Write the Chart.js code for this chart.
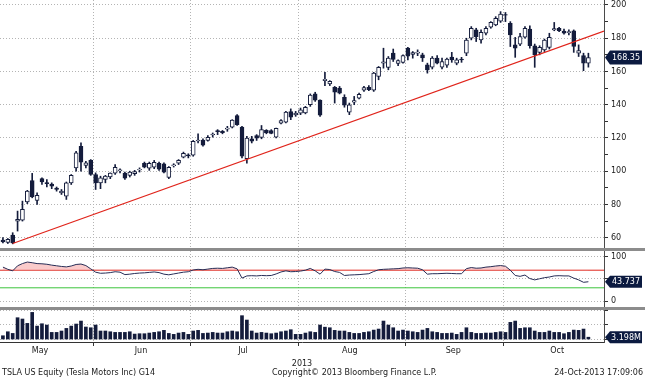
<!DOCTYPE html>
<html>
<head>
<meta charset="utf-8">
<title>TSLA US Equity</title>
<script src="https://cdn.jsdelivr.net/npm/chart.js@4.4.0/dist/chart.umd.min.js"></script>
<style>
  html, body { margin: 0; padding: 0; background: #fff; }
  #page { position: relative; width: 645px; height: 380px; overflow: hidden;
          font-family: "DejaVu Sans", sans-serif; font-size: 8px; color: #1a1a1a; }
  .panel { position: absolute; left: 0; width: 645px; }
  .sep { position: absolute; left: 0; width: 645px; height: 3px; background: #8c8c8c; }
  .foot { position: absolute; top: 368px; line-height: 10px; white-space: nowrap; }
</style>
</head>
<body>
<div id="page">
  <div class="panel" style="top:0;height:248px"><canvas id="priceChart"></canvas></div>
  <div class="sep" style="top:248px"></div>
  <div class="panel" style="top:251px;height:56px"><canvas id="rsiChart"></canvas></div>
  <div class="sep" style="top:307px"></div>
  <div class="panel" style="top:310px;height:70px"><canvas id="volChart"></canvas></div>
  <div class="foot" style="left:2px">TSLA US Equity (Tesla Motors Inc) G14</div>
  <div class="foot" style="left:272px">Copyright© 2013 Bloomberg Finance L.P.</div>
  <div class="foot" style="right:2px">24-Oct-2013 17:09:06</div>
</div>
<script>
// months on the time axis (positions are trading-day numbers)
const monthLabels = ['May', 'Jun', 'Jul', 'Aug', 'Sep', 'Oct'];
const monthMid = [7.6, 28.3, 49.2, 71.1, 92.3, 113.6];
const monthStart = [18.5, 38.5, 60.5, 82.5, 102.5];

// daily candles, 6-May-2013 .. 24-Oct-2013
const opens = [
  58.5, 57.2, 61.5, 70, 70.5, 81.5, 94.4, 82.4, 95.5, 93.2,
  92.3, 89.8, 87, 85, 93, 102, 115, 103.5, 106.5, 98,
  93, 95, 96.5, 98.8, 100.2, 98.8, 97.5, 98.5, 100.7, 104.8,
  101.8, 102.4, 104.8, 104.5, 96.3, 103.3, 104.8, 108.4, 109.8, 109.6,
  118.2, 118.8, 118.5, 121.8, 124.5, 124, 125.3, 126.5, 133.5, 126.5,
  107.5, 119.5, 121.5, 120.4, 124.6, 124.4, 120.5, 128.9, 129.5, 135.8,
  133.8, 134.9, 135, 140, 146.5, 142.8, 154.5, 152.5, 150.5, 150,
  144.5, 135.5, 141.5, 144, 148.7, 150.5, 148.7, 157, 165, 162.5,
  171, 164.8, 165.5, 174, 170.2, 171, 170, 164, 162.6, 168,
  162.6, 163.8, 168.6, 165, 167.5, 171, 180, 185, 179, 183,
  186.7, 188, 190.3, 194.3, 189, 176, 176.5, 180.7, 185.5, 175.5,
  171.5, 173, 174.5, 185, 186, 184.3, 183.4, 184.5, 171, 169.5,
  165
];
const highs = [
  60, 59.5, 63, 76, 82, 88.5, 98.7, 87, 96, 95,
  93, 90.5, 89, 93.5, 98, 112, 117, 106, 107, 99,
  97, 97.5, 99, 104, 101.5, 99.5, 100, 100.5, 102, 105.5,
  105.5, 106.5, 105.5, 105, 102.8, 104.5, 107, 111.5, 110.5, 118.5,
  122.5, 119.5, 121.5, 123, 125, 124.5, 127, 131, 134, 127,
  121, 121, 122, 127.5, 125, 125, 126, 131, 136, 137.5,
  136, 138, 139, 146.5, 147.5, 143, 159.5, 154.5, 151, 151,
  146, 141, 145, 147, 151, 151.5, 159.5, 163, 174, 169,
  173.5, 167, 170, 174.5, 172, 173, 171, 165, 169, 169.5,
  168, 168, 171.5, 168, 168.5, 180, 187, 186, 185, 187,
  190, 193, 196, 195.5, 190, 180.5, 183, 187, 187.5, 176.5,
  175.5, 179.5, 183, 189.5, 186.5, 185.5, 185, 185, 176, 171,
  171
];
const lows = [
  56.8, 56.5, 56.3, 64, 70, 80.5, 84, 80, 92, 90.5,
  89.5, 88, 86, 83, 92, 100, 100, 102, 97.5, 89,
  89.5, 93, 95.5, 98, 99, 95, 96.5, 97.5, 99.5, 102,
  100.5, 101.5, 100.5, 99, 95.5, 102.5, 104, 108, 108, 109,
  117, 115, 118, 120.5, 122, 122.5, 124, 126, 127.5, 108,
  104.8, 117, 118.5, 119.5, 122.5, 122.5, 120, 128.5, 129, 131,
  133, 134, 134.5, 139, 142, 133, 151.5, 151.5, 141, 146.5,
  138.5, 134, 140, 143.5, 148, 148.5, 148, 155, 162, 161,
  166, 163.5, 165, 167, 168, 169.5, 166, 159, 161.5, 164.5,
  161.5, 162.5, 165.5, 164, 165.5, 169.5, 179, 178, 177, 182,
  186, 187.5, 189.5, 190, 175, 168.5, 175.5, 180, 174, 162.5,
  170, 172, 173.5, 184.5, 184, 182.5, 182, 171.5, 169, 160.5,
  162.6
];
const closes = [
  57.5, 59, 56.8, 71, 77, 88, 84.5, 85.5, 93.5, 92.5,
  91, 89, 88, 93, 97.5, 111, 105.5, 105, 98, 93,
  96, 97, 98.8, 102.3, 100.8, 95.8, 99.4, 99.8, 101.2, 102.4,
  104.8, 105.4, 101.2, 99.4, 102.4, 103.8, 106.6, 110.8, 109.2, 118,
  118.8, 115.6, 120.4, 122.4, 123.8, 123.2, 126, 130.7, 128, 109,
  120, 118, 119.8, 125, 123, 122.8, 125.8, 130.5, 135.5, 132.5,
  135, 137, 138.5, 145.8, 142.7, 133.7, 155.3, 154, 147.5, 147,
  139.7, 140, 142.5, 146.3, 150.3, 149, 159, 162.5, 165.8, 168,
  167.3, 166.5, 169.5, 169.2, 171.4, 171.6, 168.2, 161, 168, 165,
  166, 167.4, 167, 167, 166.9, 178.9, 186, 181, 183.5, 186,
  189.5, 192, 194.5, 193.8, 182, 174, 181, 186, 175.5, 170,
  174.5, 178.9, 180.5, 185.8, 184.5, 183.1, 184, 175, 172.5, 165,
  168.35
];
// volume, millions of shares
const volumes = [
  5.2, 10.7, 8.4, 30, 28.2, 22.2, 37.3, 18.5, 21.7, 19.9,
  9.8, 9.8, 11.7, 15.3, 18.5, 21.3, 25.4, 17.2, 16.2, 19.9,
  11.7, 11.7, 10.7, 9.8, 9.8, 9.8, 10.7, 7.5, 8, 8,
  8.9, 9.8, 10.7, 12.6, 8.4, 7.1, 8.9, 9.8, 7.1, 11.7,
  12.6, 8.4, 8.9, 9.8, 8.9, 8.9, 10.7, 11.7, 10.7, 32.8,
  26.8, 11.7, 8.9, 9.8, 8.9, 8, 8.9, 10.7, 11.7, 13.5,
  7.1, 7.1, 8.9, 10.7, 9.8, 19.9, 17, 16.2, 12.6, 11.7,
  11.7, 9.8, 8.4, 8.4, 9.8, 10.7, 13, 14.4, 25.4, 19.9,
  16.2, 11.7, 13, 11.7, 10.7, 9.8, 13, 15.3, 10.7, 9.8,
  8.4, 8.4, 8.9, 7.1, 9.8, 16.2, 9.8, 8.4, 8.4, 8.9,
  8.9, 9.8, 10.7, 9.8, 23.6, 25.4, 15.3, 16.2, 16.2, 11.7,
  9.8, 9.8, 11.7, 9.8, 9.8, 8, 9.8, 13, 12.6, 14.4,
  3.198
];
// RSI (14)
const rsi = [
  77, 72, 68.5, 80, 85, 88.5, 87, 85, 84.5, 83.5,
  81.5, 80, 78.5, 77.5, 79.5, 83, 84, 80.5, 73, 65.5,
  63, 63.5, 64.5, 66.5, 65.5, 60, 61, 62.5, 63.5, 64,
  65, 66, 64.5, 61, 59.5, 61.5, 63.5, 65.5, 66.5, 70.5,
  72, 71, 72.5, 74, 74.5, 74, 75.5, 77, 73, 52,
  57, 57.5, 57, 58, 57.5, 58, 61.5, 66, 68.5, 66.5,
  67, 68, 70, 74, 68.5, 61, 72.5, 71.5, 67, 65,
  58, 59, 59.5, 60, 61, 62, 67, 71, 72, 72.5,
  73, 73.5, 75, 75.5, 75, 74.5, 71, 61, 62, 62,
  62.5, 63, 62.5, 62, 62, 73.5, 76, 74.5, 75, 77,
  78, 79.5, 80.5, 79, 70, 58, 56, 59, 51, 48,
  50.5, 53, 54.5, 57, 57.5, 57, 57, 52, 48, 42.5,
  43.737
];
// trend line drawn on the price panel
const trendX = [2, 123.2];
const trendY = [56.5, 184.3];
const rsiLevels = [70, 30];
const rsiLevelColors = ['#e0241b', '#3cc43c'];

const xMin = -0.6, xMax = 123.2;
const navy = '#141c3c';
const dotted = '#b4b4b4';
const days = closes.map((c, i) => i);

Chart.defaults.font.family = '"DejaVu Sans", sans-serif';
Chart.defaults.font.size = 8;
Chart.defaults.color = '#1a1a1a';

// value box on the right axis
const lastBox = {
  id: 'lastBox',
  afterDraw(chart, args, opts) {
    if (!opts.text) return;
    const ctx = chart.ctx;
    const y = chart.scales.y.getPixelForValue(opts.value);
    const x0 = chart.chartArea.right + 1, x1 = x0 + 5, x2 = 642, h = opts.h || 13;
    ctx.save();
    ctx.fillStyle = '#0b1a40';
    ctx.beginPath();
    ctx.moveTo(x0, y);
    ctx.lineTo(x1, y - h / 2);
    ctx.lineTo(x2, y - h / 2);
    ctx.lineTo(x2, y + h / 2);
    ctx.lineTo(x1, y + h / 2);
    ctx.closePath();
    ctx.fill();
    ctx.fillStyle = '#fff';
    ctx.font = '8px "DejaVu Sans"';
    ctx.textAlign = 'center';
    ctx.textBaseline = 'middle';
    ctx.fillText(opts.text, (x1 + x2) / 2, y + 0.5);
    ctx.restore();
  }
};

function monthAxis(height, withTicks) {
  return {
    type: 'linear', min: xMin, max: xMax, weight: 0, offset: false,
    afterBuildTicks: s => { s.ticks = monthStart.map(v => ({ value: v })); },
    ticks: { display: false },
    grid: { offset: false, color: dotted, drawTicks: withTicks, tickLength: 4, tickColor: '#333' },
    border: { display: withTicks, color: '#333', dash: [1, 2] },
    afterFit: s => { s.height = height; s.paddingLeft = 0; s.paddingRight = 0; }
  };
}

function rightAxis(min, max, step, label, gridColor) {
  return {
    position: 'right', min: min, max: max,
    ticks: { stepSize: step, includeBounds: false, autoSkip: false, padding: 3, callback: label },
    grid: { color: gridColor, tickColor: '#333', tickLength: 4 },
    border: { display: true, color: '#4a4a4a', dash: [1, 2] },
    afterFit: s => { s.width = 41; s.paddingTop = 0; s.paddingBottom = 0; }
  };
}

const baseOptions = {
  responsive: true,
  maintainAspectRatio: false,
  animation: false,
  events: [],
  layout: { padding: 0 }
};

new Chart(document.getElementById('priceChart'), {
  type: 'bar',
  data: {
    datasets: [
      {
        label: 'range',
        data: days.map(i => ({ x: i, y: [lows[i], highs[i]] })),
        backgroundColor: navy, barThickness: 1, grouped: false, order: 3
      },
      {
        label: 'body',
        data: days.map(i => ({ x: i, y: [opens[i], closes[i]] })),
        backgroundColor: days.map(i => closes[i] >= opens[i] ? '#ffffff' : navy),
        borderColor: navy, borderWidth: 1, borderSkipped: false,
        barThickness: 4, grouped: false, order: 2
      },
      {
        type: 'line', label: 'trend',
        data: trendX.map((x, k) => ({ x: x, y: trendY[k] })),
        borderColor: '#e0241b', borderWidth: 1.2, pointRadius: 0, order: 1
      }
    ]
  },
  options: Object.assign({}, baseOptions, {
    plugins: {
      legend: { display: false }, tooltip: { enabled: false },
      lastBox: { value: closes[closes.length - 1], text: closes[closes.length - 1].toFixed(2), h: 14 }
    },
    scales: {
      x: monthAxis(0, false),
      y: rightAxis(53.8, 203, 10,
        v => Math.round(v) % 20 === 0 ? Math.round(v) : '',
        c => c.tick && Math.round(c.tick.value) % 20 === 0 ? dotted : 'rgba(0,0,0,0)')
    }
  }),
  plugins: [lastBox]
});

new Chart(document.getElementById('rsiChart'), {
  type: 'line',
  data: {
    datasets: [
      {
        label: 'RSI',
        data: days.map(i => ({ x: i, y: rsi[i] })),
        borderColor: '#262c55', borderWidth: 1, pointRadius: 0, tension: 0,
        fill: { target: { value: rsiLevels[0] }, above: 'rgba(246,168,168,0.6)', below: 'rgba(0,0,0,0)' },
        order: 1
      }
    ].concat(rsiLevels.map((lv, k) => ({
      label: 'level ' + lv,
      data: [{ x: xMin, y: lv }, { x: xMax, y: lv }],
      borderColor: rsiLevelColors[k], borderWidth: 1, pointRadius: 0, order: 2
    })))
  },
  options: Object.assign({}, baseOptions, {
    plugins: {
      legend: { display: false }, tooltip: { enabled: false },
      lastBox: { value: rsi[rsi.length - 1], text: rsi[rsi.length - 1].toFixed(3), h: 12 }
    },
    scales: {
      x: monthAxis(0, false),
      y: rightAxis(-13.6, 113.6, 50, v => (v === 0 || v === 100) ? v : '', dotted)
    }
  }),
  plugins: [lastBox]
});

const volX = monthAxis(4, true);
new Chart(document.getElementById('volChart'), {
  type: 'bar',
  data: {
    datasets: [{
      label: 'Volume',
      data: days.map(i => ({ x: i, y: volumes[i] })),
      backgroundColor: navy, barThickness: 3
    }]
  },
  options: Object.assign({}, baseOptions, {
    plugins: {
      legend: { display: false }, tooltip: { enabled: false },
      lastBox: { value: volumes[volumes.length - 1], text: volumes[volumes.length - 1].toFixed(3) + 'M', h: 12 }
    },
    scales: {
      x: volX,
      x2: {
        type: 'linear', position: 'bottom', min: xMin, max: xMax, weight: 1, offset: false,
        afterBuildTicks: s => { s.ticks = monthMid.map(v => ({ value: v })); },
        ticks: { autoSkip: false, maxRotation: 0, padding: 0, callback: (v, k) => monthLabels[k] },
        grid: { display: false, drawTicks: false, offset: false },
        border: { display: false },
        title: { display: true, text: '2013', padding: { top: 0, bottom: 11 } },
        afterFit: s => { s.height = 34; s.paddingLeft = 0; s.paddingRight = 0; }
      },
      y: rightAxis(-3.4, 40.6, 20, () => '', dotted)
    }
  }),
  plugins: [lastBox]
});
</script>
</body>
</html>
